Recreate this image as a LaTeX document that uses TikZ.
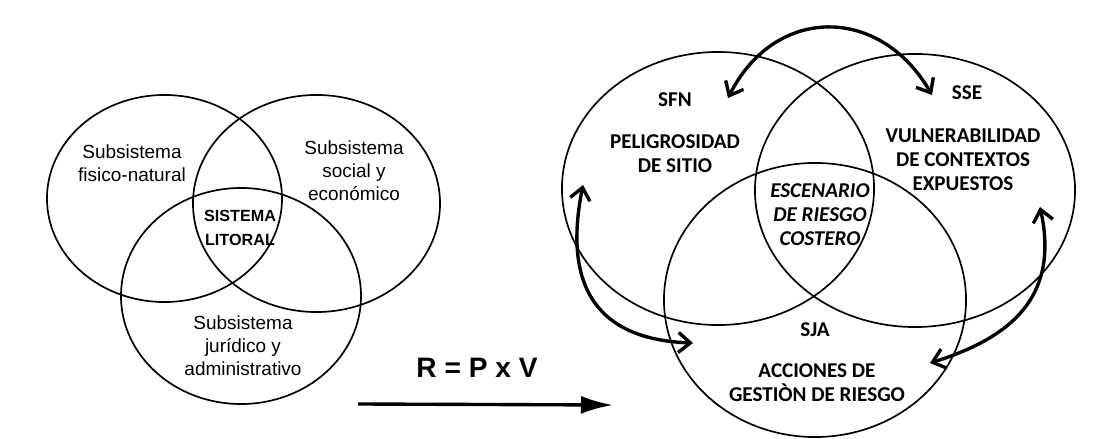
\documentclass[tikz,border=0pt]{standalone}
\usepackage{fontspec}
\setmainfont{Liberation Sans}
\newfontfamily\calfont{Carlito}
\usetikzlibrary{shapes,arrows,positioning,calc,arrows.meta}

\begin{document}
\begin{tikzpicture}[x=0.025cm,y=-0.025cm,
    venn/.style={draw,ellipse,line width=1.2pt,inner sep=0pt,outer sep=0pt},
    subtxt/.style={align=center,font=\fontsize{13.5}{16.5}\selectfont},
    bigtxt/.style={align=center,font=\calfont\bfseries\fontsize{15}{17}\selectfont},
    link/.style={line width=2.4pt,{Straight Barb[length=3mm,width=5mm]}-{Straight Barb[length=3mm,width=5mm]}}]
    \useasboundingbox (0,0) rectangle (1111,439);

    % left diagram: sistema litoral
    \node[venn,minimum width=5.875cm,minimum height=5.175cm] (fn) at (164.5,198.5) {};
    \node[venn,minimum width=6.175cm,minimum height=5.425cm] (se) at (316.5,203.5) {};
    \node[venn,minimum width=6cm,minimum height=5.4cm] (ja) at (241,296) {};
    \node[subtxt] (fntxt) at (132,163) {Subsistema\\fisico-natural};
    \node[subtxt] (setxt) at (354,171) {Subsistema\\social y\\económico};
    \node[subtxt] (jatxt) at (243,346) {Subsistema\\jurídico y\\administrativo};
    \node[align=center,font=\bfseries\fontsize{11.5}{16.5}\selectfont] (lit) at (240,228) {SISTEMA\\LITORAL};

    % R = P x V
    \node[font=\bfseries\fontsize{20}{24}\selectfont] (rpv) at (477,368) {R = P x V};
    \coordinate (a1) at (358,404);
    \coordinate (a2) at (613,405);
    \draw[line width=2.4pt,-{Latex[length=8mm,width=4.5mm]}] (a1) -- (a2);

    % right diagram: escenario de riesgo
    \node[venn,minimum width=7.8cm,minimum height=6.825cm] (sfn) at (718,188.5) {};
    \node[venn,minimum width=8cm,minimum height=6.825cm] (sse) at (915,190.5) {};
    \node[venn,minimum width=7.55cm,minimum height=6.85cm] (sja) at (815,300) {};
    \node[bigtxt] (sfnlbl) at (675,100) {SFN};
    \node[bigtxt] (ssselbl) at (967,93) {SSE};
    \node[bigtxt] (sjalbl) at (815,330) {SJA};
    \node[bigtxt] (peli) at (675,154) {PELIGROSIDAD\\DE SITIO};
    \node[bigtxt] (vuln) at (963,160) {VULNERABILIDAD\\DE CONTEXTOS\\EXPUESTOS};
    \node[bigtxt] (acc) at (817,383) {ACCIONES DE\\GESTIÒN DE RIESGO};
    \node[bigtxt,font=\calfont\bfseries\itshape\fontsize{15}{17}\selectfont] (esc) at (820,215) {ESCENARIO\\DE RIESGO\\COSTERO};

    % double arrows
    \coordinate (t1) at (728,98);
    \coordinate (t2) at (932,95);
    \coordinate (l1) at (583,185);
    \coordinate (l2) at (693,343);
    \coordinate (r1) at (1040,207);
    \coordinate (r2) at (930,363);
    \draw[link] (t1) .. controls (775,5) and (880,5) .. (t2);
    \draw[link] (l1) .. controls (560,300) and (610,340) .. (l2);
    \draw[link] (r1) .. controls (1058,290) and (1020,335) .. (r2);
\end{tikzpicture}
\end{document}
